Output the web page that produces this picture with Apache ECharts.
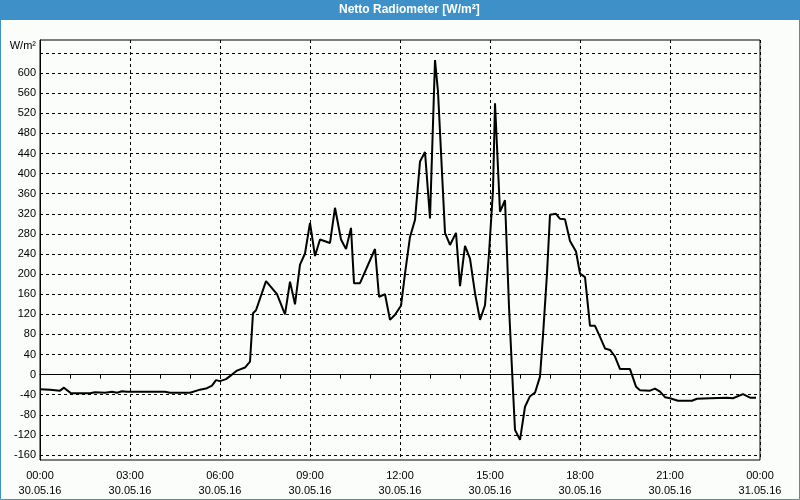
<!DOCTYPE html>
<html>
<head>
<meta charset="utf-8">
<script src="https://cdn.jsdelivr.net/npm/echarts@6/dist/echarts.min.js"></script>
<style>
html,body{margin:0;padding:0;background:#fafdfa;}
#chart{width:800px;height:500px;}
</style>
</head>
<body>
<div id="chart"></div>
<script>
// Minutes since 00:00 on 30.05.16
var minutes = [0,20,40,48,54,62,100,110,130,144,154,164,174,250,260,300,320,334,344,352,360,372,384,394,410,420,426,432,452,474,490,500,510,520,530,540,550,560,580,590,602,612,622,628,640,670,678,690,700,710,722,730,740,750,760,770,780,790,796,810,820,832,840,850,860,870,880,890,898,906,910,920,930,938,946,950,960,970,980,990,1000,1006,1014,1020,1032,1040,1050,1060,1072,1080,1090,1100,1110,1120,1130,1140,1150,1160,1180,1192,1200,1220,1230,1240,1250,1260,1276,1304,1314,1340,1374,1386,1406,1420,1432];
// Netto Radiometer values, W/m²
var values = [-29,-30,-32,-26,-31,-37,-37,-35,-36,-34,-36,-33,-34,-34,-36,-36,-30,-27,-22,-11,-13,-9,0,8,14,26,122,128,186,160,120,185,140,219,241,302,236,269,262,332,269,250,292,182,182,250,155,160,109,119,137,201,274,308,424,443,311,626,563,282,258,282,176,256,231,162,109,138,241,367,540,324,347,135,-31,-110,-130,-64,-43,-36,-4,78,201,318,320,310,309,266,245,201,194,97,97,75,52,49,36,11,11,-24,-31,-32,-28,-34,-45,-47,-52,-52,-48,-47,-46,-47,-39,-46,-46];
var xTickLabels = ["00:00\n30.05.16","03:00\n30.05.16","06:00\n30.05.16","09:00\n30.05.16","12:00\n30.05.16","15:00\n30.05.16","18:00\n30.05.16","21:00\n30.05.16","00:00\n31.05.16"];
var yTicks = [-160,-120,-80,-40,0,40,80,120,160,200,240,280,320,360,400,440,480,520,560,600,640];
var yTickLabels = ["-160","-120","-80","-40","0","40","80","120","160","200","240","280","320","360","400","440","480","520","560","600",""];

var data = minutes.map(function(m, i){ return [m, values[i]]; });
var FONT = "'Liberation Sans', Arial, sans-serif";

var chart = echarts.init(document.getElementById('chart'), null, {renderer:'canvas'});
chart.setOption({
  animation: false,
  backgroundColor: '#fafdfa',
  graphic: [
    {type:'rect', shape:{x:0,y:0,width:800,height:20}, style:{fill:'#3d91c8'}, z:-1},
    {type:'rect', shape:{x:0.5,y:0.5,width:799,height:499}, style:{fill:'none', stroke:'#3d91c8', lineWidth:1}, z:-1},
    {type:'text', left:405 - 66, top:4, style:{text:'Netto Radiometer [W/m²]', fill:'#ffffff', font:'bold 12px ' + FONT}},
    {type:'text', right:764, top:40, style:{text:'W/m²', fill:'#000', font:'11px ' + FONT}}
  ],
  grid: {left:40, right:40, top:40, bottom:40, show:true, borderColor:'#000', borderWidth:1, backgroundColor:'#fafdfa'},
  xAxis: {
    type:'value', min:0, max:1440, interval:180,
    axisLine:{show:true, lineStyle:{color:'#000', width:1}},
    axisTick:{show:true, length:4, lineStyle:{color:'#000'}},
    minorTick:{show:true, splitNumber:3, length:4, lineStyle:{color:'#000'}},
    splitLine:{show:true, lineStyle:{color:'#000', type:[3,3], width:1}},
    axisLabel:{
      color:'#000', fontFamily:FONT, fontSize:11, lineHeight:15, margin:8,
      formatter:function(v){ return xTickLabels[Math.round(v/180)] || ''; }
    }
  },
  yAxis: {
    type:'value', min:-170, max:666,
    axisLine:{show:true, lineStyle:{color:'#000', width:1}},
    axisTick:{show:false, customValues:yTicks},
    splitLine:{show:true, lineStyle:{color:'#000', type:[3,3], width:1}},
    axisLabel:{
      color:'#000', fontFamily:FONT, fontSize:11, margin:4, customValues:yTicks,
      formatter:function(v){ var i = yTicks.indexOf(v); return i >= 0 ? yTickLabels[i] : ''; }
    }
  },
  series: [{
    type:'line', data:data, showSymbol:false, symbol:'none',
    lineStyle:{color:'#000', width:2}, clip:true
  }]
});
</script>
</body>
</html>
